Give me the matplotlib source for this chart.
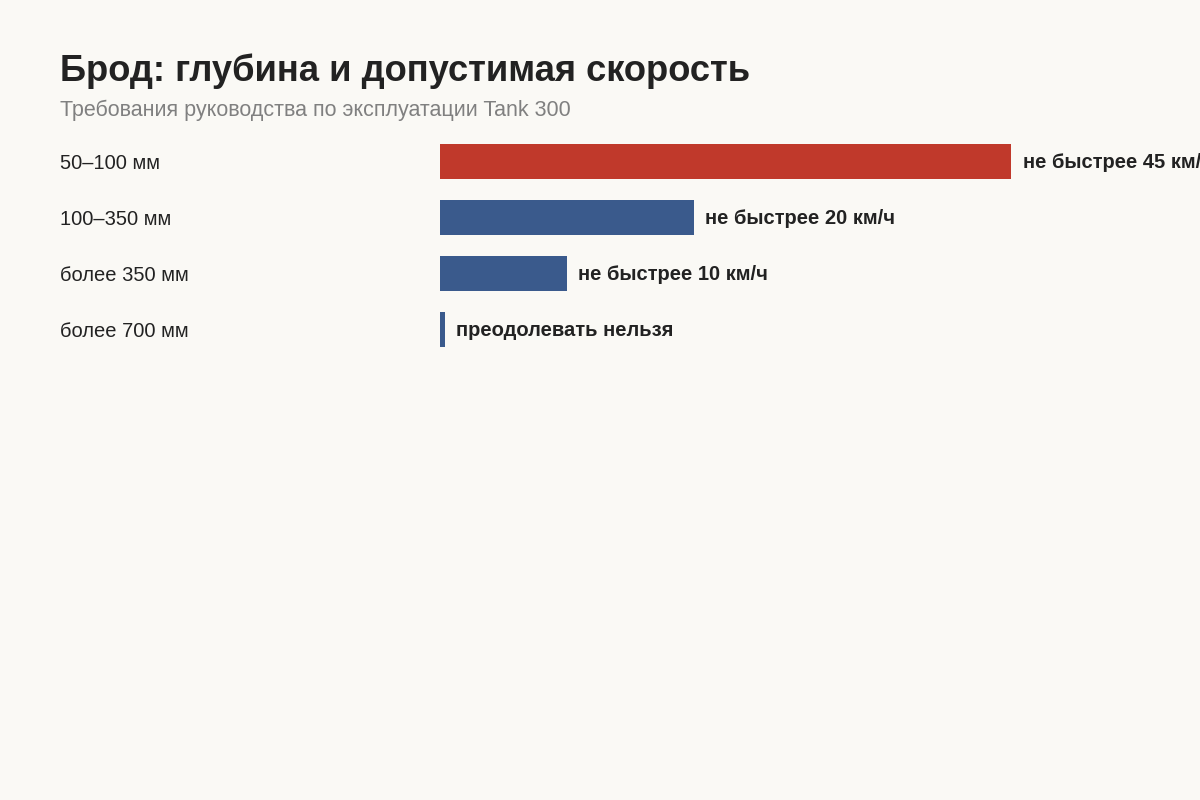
import matplotlib.pyplot as plt

# Fording depth vs allowed speed
depths = ["50–100 мм", "100–350 мм", "более 350 мм", "более 700 мм"]
speeds = [45, 20, 10, 0]
speed_labels = ["не быстрее 45 км/ч", "не быстрее 20 км/ч",
                "не быстрее 10 км/ч", "преодолевать нельзя"]
colors = ["#c0392b", "#3a5a8c", "#3a5a8c", "#3a5a8c"]

plt.rcParams['font.family'] = ['Liberation Sans', 'DejaVu Sans']
bg = "#faf9f5"

fig = plt.figure(figsize=(12, 8), dpi=100, facecolor=bg)
# bars occupy the band from y=144 to y=347 px
n = len(depths)
row = 56 / 800
top = 1 - (144 - (56 - 35) / 2) / 800
ax = fig.add_axes([440 / 1200, top - n * row, 760 / 1200, n * row])
ax.set_facecolor(bg)

y = list(range(n))
widths = [max(v, 0.4) for v in speeds]  # keep a thin stub for zero
ax.barh(y, widths, height=0.625, color=colors)
ax.set_xlim(0, 59.85)
ax.set_ylim(n - 0.5, -0.5)

# the first label runs past the right edge, as in the original
for i, (w, lab) in enumerate(zip(widths, speed_labels)):
    ax.annotate(lab, (w, i), xytext=(8, -1), textcoords="offset points",
                va="center", ha="left", fontsize=14.5, fontweight="bold",
                color="#222222", annotation_clip=False)

for i, d in enumerate(depths):
    ax.annotate(d, (0, i), xycoords=("figure pixels", "data"),
                xytext=(60, -2), textcoords="offset pixels",
                va="center", ha="left", fontsize=14.5, color="#222222",
                annotation_clip=False)

ax.set_xticks([])
ax.set_yticks([])
for s in ax.spines.values():
    s.set_visible(False)

fig.text(60 / 1200, 1 - 81 / 800, "Брод: глубина и допустимая скорость",
         fontsize=26.2, fontweight="bold", color="#222222", va="baseline")
fig.text(60 / 1200, 1 - 116 / 800, "Требования руководства по эксплуатации Tank 300",
         fontsize=15.5, color="#808080", va="baseline")

fig.savefig("out.png", dpi=100, facecolor=bg)
